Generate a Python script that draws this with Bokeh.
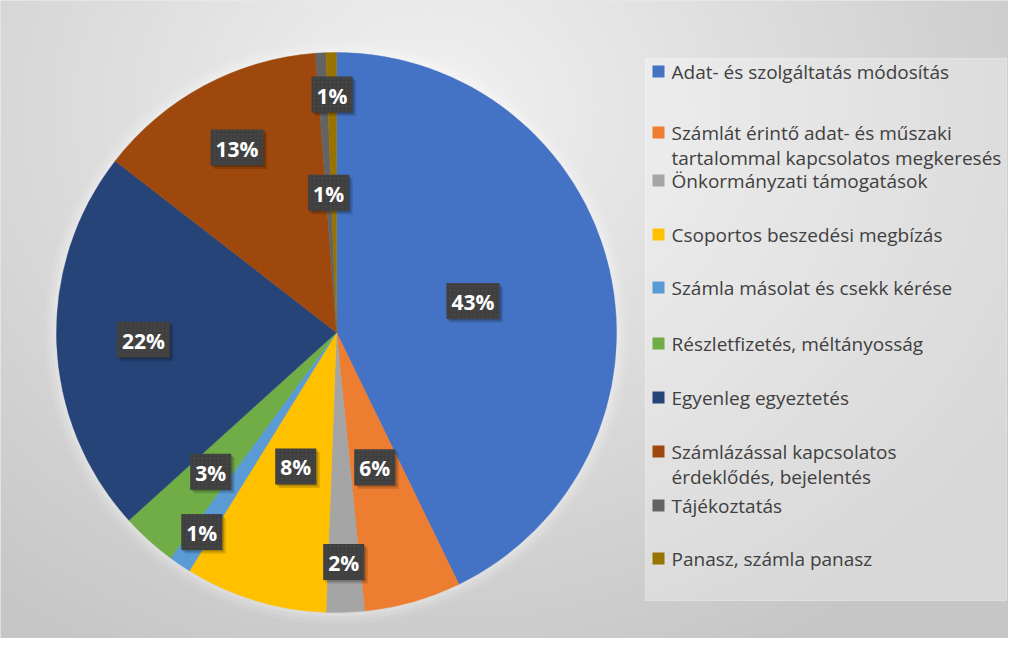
import numpy as np
import textwrap
from bokeh.plotting import figure
from bokeh.models import Range1d, ColumnDataSource
from bokeh.core.properties import value
from bokeh.embed import file_html
from bokeh.resources import INLINE

# ---------------- data ----------------
categories = [
    "Adat- és szolgáltatás módosítás",
    "Számlát érintő adat- és műszaki tartalommal kapcsolatos megkeresés",
    "Önkormányzati támogatások",
    "Csoportos beszedési megbízás",
    "Számla másolat és csekk kérése",
    "Részletfizetés, méltányosság",
    "Egyenleg egyeztetés",
    "Számlázással kapcsolatos érdeklődés, bejelentés",
    "Tájékoztatás",
    "Panasz, számla panasz",
]
shares = [42.8, 5.6, 2.2, 8.2, 1.3, 3.2, 22.2, 13.3, 0.6, 0.6]
labels = ["43%", "6%", "2%", "8%", "1%", "3%", "22%", "13%", "1%", "1%"]
colors = ["#4472C4", "#ED7D31", "#A5A5A5", "#FFC000", "#5B9BD5",
          "#70AD47", "#264478", "#9E480E", "#636363", "#997300"]

# ---------------- layout ----------------
W, H = 1008, 638
def Y(wy):  # picture y (top-down) -> data y (bottom-up)
    return 654 - wy

cx, cy, R = 336, Y(332), 280
label_rf = [0.5, 0.5, 0.82, 0.5, 0.86, 0.67, 0.69, 0.75, 0.5, 0.85]
legend_y = [71, 132, 180, 234, 287, 343, 397, 451, 505, 558]

p = figure(width=W, height=H, x_range=Range1d(0, W), y_range=Range1d(654 - H, 654),
           output_backend="svg", toolbar_location=None, min_border=0,
           x_axis_location=None, y_axis_location=None)
p.grid.visible = False
p.outline_line_color = None
p.background_fill_color = "#d6d6d6"
p.border_fill_color = "#d6d6d6"

# background gradient
wx = np.arange(W) + 0.5
wy = 654 - (np.arange(H) + (654 - H) + 0.5)
XX, YY = np.meshgrid(wx, wy)
d = np.sqrt(((XX - 430) / 720.0) ** 2 + ((YY - 110) / 620.0) ** 2)
t = np.clip(d, 0, 1)
g = (242 - t * 44).astype(np.uint8)
img = np.empty((H, W), dtype=np.uint32)
v = img.view(dtype=np.uint8).reshape((H, W, 4))
v[..., 0] = g
v[..., 1] = g
v[..., 2] = g
v[..., 3] = 255
p.image_rgba(image=[img], x=0, y=654 - H, dw=W, dh=H)

# soft glow behind pie
for r, a in [(292, 0.08), (288, 0.12), (284, 0.16)]:
    p.circle(x=cx, y=cy, radius=r, fill_color="white", fill_alpha=a, line_color=None)

# pie
frac = np.array(shares) / np.sum(shares)
cum = np.concatenate([[0.0], np.cumsum(frac)])
start = np.pi / 2 - 2 * np.pi * cum[:-1]
end = np.pi / 2 - 2 * np.pi * cum[1:]
src = ColumnDataSource(dict(start=start, end=end, color=colors, cat=categories))
p.wedge(x=cx, y=cy, radius=R, start_angle="start", end_angle="end", direction="clock",
        fill_color="color", line_color="color", line_width=0.5, source=src)

# data labels
mid = (cum[:-1] + cum[1:]) / 2
ang = np.pi / 2 - 2 * np.pi * mid
rf = np.array(label_rf)
lx = cx + rf * R * np.cos(ang)
ly = cy + rf * R * np.sin(ang)
bw = [17 + 12 * len(s) for s in labels]
p.rect(x=lx + 3.5, y=ly - 3.5, width=bw, height=36, fill_color="black", fill_alpha=0.15, line_color=None)
p.rect(x=lx + 1.5, y=ly - 1.5, width=bw, height=36, fill_color="black", fill_alpha=0.2, line_color=None)
p.rect(x=lx, y=ly, width=bw, height=36, fill_color="#3f3f3f", line_color=None,
       hatch_pattern="dot", hatch_color="#575757", hatch_scale=4, hatch_alpha=0.45)
p.text(x=lx, y=ly - 1, text=labels, text_align="center", text_baseline="middle",
       text_color="white", text_font=value("Open Sans"), text_font_style="bold", text_font_size="21px")

# legend
p.quad(left=645, right=1006, top=Y(58), bottom=Y(600), fill_color="white", fill_alpha=0.3,
       line_color="white", line_alpha=0.35)
p.rect(x=658, y=[Y(v_) for v_ in legend_y], width=12, height=12, fill_color=colors, line_color=None)
tx, ty, tt = [], [], []
for i, cat in enumerate(categories):
    for j, line in enumerate(textwrap.wrap(cat, width=34)):
        tx.append(671)
        ty.append(Y(legend_y[i] + 25 * j))
        tt.append(line)
p.text(x=tx, y=ty, text=tt, text_align="left", text_baseline="middle", text_color="#404040",
       text_font=value("Open Sans"), text_font_size="19px")

open("out.html", "w").write(file_html(p, INLINE))
